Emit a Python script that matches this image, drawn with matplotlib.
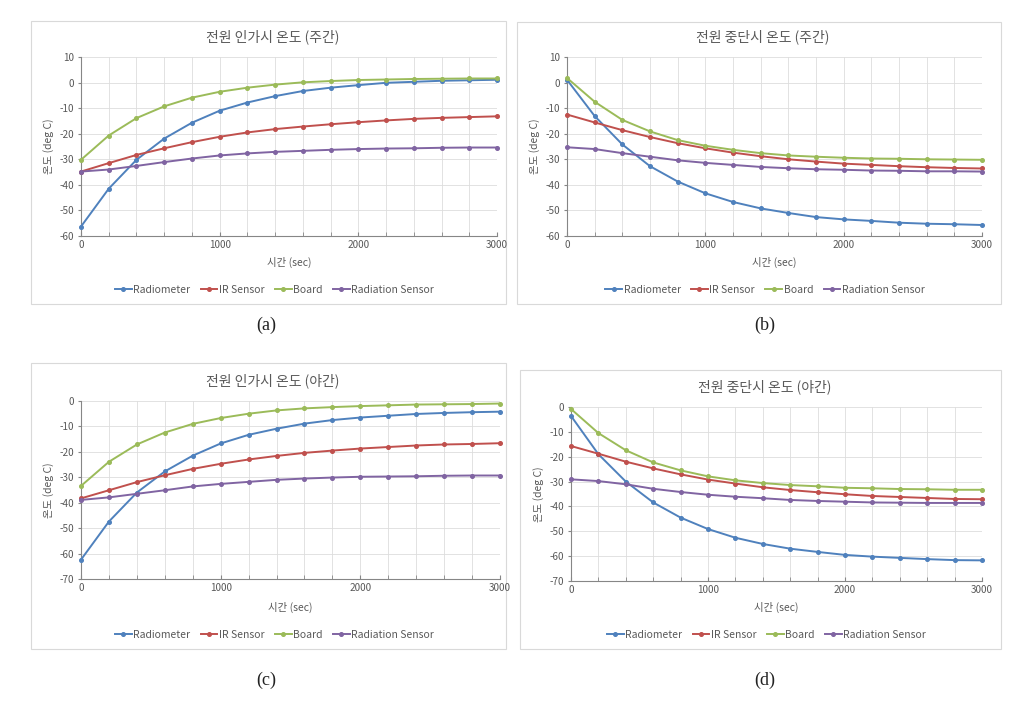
import matplotlib
matplotlib.use("Agg")
import matplotlib.pyplot as plt
from matplotlib.patches import Rectangle

plt.rcParams['font.family'] = ['Noto Sans CJK KR', 'DejaVu Sans']
plt.rcParams['axes.unicode_minus'] = False

time_s = [0, 200, 400, 600, 800, 1000, 1200, 1400, 1600, 1800, 2000, 2200, 2400, 2600, 2800, 3000]
series_names = ["Radiometer", "IR Sensor", "Board", "Radiation Sensor"]

# (a) 전원 인가시 온도 (주간)
a_radiometer = [-56.3, -41.5, -30.2, -21.9, -15.7, -11.0, -7.8, -5.3, -3.3, -2.0, -1.0, -0.1, 0.3, 0.7, 0.9, 1.1]
a_ir = [-34.8, -31.5, -28.3, -25.7, -23.3, -21.2, -19.5, -18.2, -17.2, -16.3, -15.5, -14.8, -14.2, -13.8, -13.5, -13.2]
a_board = [-30.2, -20.7, -13.9, -9.3, -5.9, -3.6, -2.0, -0.8, 0.1, 0.6, 1.0, 1.2, 1.4, 1.5, 1.6, 1.6]
a_radiation = [-34.8, -34.0, -32.6, -31.1, -29.7, -28.5, -27.7, -27.1, -26.7, -26.3, -26.0, -25.8, -25.7, -25.5, -25.4, -25.4]

# (b) 전원 중단시 온도 (주간)
b_radiometer = [1.1, -13.1, -24.2, -32.7, -38.7, -43.3, -46.7, -49.2, -51.0, -52.6, -53.5, -54.1, -54.8, -55.2, -55.4, -55.7]
b_ir = [-12.5, -15.6, -18.6, -21.3, -23.7, -25.7, -27.4, -28.8, -30.0, -30.9, -31.7, -32.2, -32.7, -33.1, -33.4, -33.6]
b_board = [1.8, -7.5, -14.6, -19.1, -22.5, -24.7, -26.3, -27.6, -28.5, -29.0, -29.4, -29.7, -29.8, -30.0, -30.1, -30.2]
b_radiation = [-25.3, -26.0, -27.6, -29.0, -30.4, -31.4, -32.2, -33.0, -33.5, -33.9, -34.1, -34.4, -34.5, -34.7, -34.7, -34.8]

# (c) 전원 인가시 온도 (야간)
c_radiometer = [-62.4, -47.4, -36.0, -27.7, -21.5, -16.7, -13.3, -10.9, -8.9, -7.5, -6.5, -5.8, -5.1, -4.7, -4.4, -4.2]
c_ir = [-38.3, -35.1, -31.9, -29.2, -26.7, -24.7, -23.0, -21.6, -20.4, -19.5, -18.7, -18.1, -17.5, -17.1, -16.9, -16.6]
c_board = [-33.4, -23.9, -17.1, -12.4, -9.0, -6.7, -5.0, -3.7, -2.9, -2.4, -2.0, -1.7, -1.4, -1.3, -1.2, -1.0]
c_radiation = [-38.9, -37.9, -36.5, -35.1, -33.6, -32.6, -31.8, -31.0, -30.5, -30.1, -29.8, -29.7, -29.6, -29.4, -29.3, -29.3]

# (d) 전원 중단시 온도 (야간)
d_radiometer = [-3.6, -19.0, -30.0, -38.4, -44.5, -49.1, -52.6, -55.1, -57.0, -58.3, -59.5, -60.2, -60.7, -61.2, -61.6, -61.7]
d_ir = [-15.7, -18.8, -22.0, -24.7, -27.1, -29.2, -30.8, -32.3, -33.4, -34.3, -35.1, -35.8, -36.2, -36.6, -37.0, -37.1]
d_board = [-0.8, -10.5, -17.4, -22.3, -25.5, -27.9, -29.5, -30.6, -31.4, -31.9, -32.5, -32.7, -33.0, -33.1, -33.3, -33.3]
d_radiation = [-29.1, -29.8, -31.1, -32.9, -34.2, -35.3, -36.1, -36.7, -37.4, -37.8, -38.1, -38.4, -38.5, -38.6, -38.6, -38.6]

titles = ["전원 인가시 온도 (주간)", "전원 중단시 온도 (주간)", "전원 인가시 온도 (야간)", "전원 중단시 온도 (야간)"]
captions = ["(a)", "(b)", "(c)", "(d)"]
ylims = [(-60, 10), (-60, 10), (-70, 0), (-70, 0)]
panel_data = [
    [a_radiometer, a_ir, a_board, a_radiation],
    [b_radiometer, b_ir, b_board, b_radiation],
    [c_radiometer, c_ir, c_board, c_radiation],
    [d_radiometer, d_ir, d_board, d_radiation],
]
colors = ["#4F81BD", "#C0504D", "#9BBB59", "#8064A2"]

W, H = 1011, 705
fig = plt.figure(figsize=(W / 100, H / 100), dpi=100)

# layout in pixels
axes_px = [(81, 497, 57, 236), (567, 982, 57, 236), (81, 500, 401, 579), (571, 982, 407, 581)]
frames_px = [(31, 506, 21, 304), (517, 1001, 22, 304), (31, 506, 363, 649), (520, 1001, 370, 649)]
title_y = [37, 37, 381, 387]
xlabel_y = [262, 262, 607, 607]
legend_y = [290, 290, 635, 635]
caption_xy = [(266, 325), (765, 325), (266, 680), (765, 680)]

txt = "#595959"

def fx(px):
    return px / W

def fy(py):
    return 1 - py / H

for i in range(4):
    fl, fr, ft, fb = frames_px[i]
    fig.patches.append(Rectangle((fx(fl), fy(fb)), fx(fr) - fx(fl), fy(ft) - fy(fb),
                                 transform=fig.transFigure, facecolor="none",
                                 edgecolor="#D9D9D9", linewidth=0.8, zorder=-1))
    l, r, t, b = axes_px[i]
    ax = fig.add_axes([fx(l), fy(b), fx(r) - fx(l), fy(t) - fy(b)])
    ax.set_facecolor("none")
    handles = []
    for name, vals, c in zip(series_names, panel_data[i], colors):
        h, = ax.plot(time_s, vals, color=c, lw=1.4, marker="o", markersize=2.6,
                     label=name, clip_on=False, zorder=3)
        handles.append(h)
    ax.set_xlim(0, 3000)
    ax.set_ylim(*ylims[i])
    ax.set_xticks([0, 1000, 2000, 3000])
    ax.set_xticks(time_s, minor=True)
    ax.set_yticks(range(ylims[i][0], ylims[i][1] + 1, 10))
    ax.grid(True, which="both", axis="x", color="#DDDDDD", lw=0.6)
    ax.grid(True, which="major", axis="y", color="#DDDDDD", lw=0.6)
    ax.set_axisbelow(True)
    for s in ["top", "right"]:
        ax.spines[s].set_visible(False)
    for s in ["left", "bottom"]:
        ax.spines[s].set_color("#868686")
        ax.spines[s].set_linewidth(0.8)
    ax.tick_params(axis="x", which="both", direction="in", length=3, color="#868686",
                   labelsize=7.2, labelcolor=txt, pad=3)
    ax.tick_params(axis="y", which="major", direction="out", length=2, color="#868686",
                   labelsize=7.2, labelcolor=txt, pad=3)
    ax.set_ylabel("온도 (deg C)", fontsize=7.5, color=txt, labelpad=4)
    fig.text(fx((l + r) / 2), fy(xlabel_y[i]), "시간 (sec)", fontsize=7.5, color=txt,
             ha="center", va="center")
    fig.text(fx((fl + fr) / 2 + 4), fy(title_y[i]), titles[i], fontsize=10, color=txt,
             ha="center", va="center")
    fig.legend(handles=handles, loc="center", bbox_to_anchor=(fx((fl + fr) / 2 + 6), fy(legend_y[i])),
               ncol=4, frameon=False, fontsize=7.5, handlelength=1.6, handletextpad=0.15,
               columnspacing=1.0, labelcolor=txt, borderaxespad=0, borderpad=0)
    fig.text(fx(caption_xy[i][0]), fy(caption_xy[i][1]), captions[i], fontsize=13,
             family="Liberation Serif", color="#222222", ha="center", va="center")

fig.savefig("out.png", dpi=100, facecolor="white")
